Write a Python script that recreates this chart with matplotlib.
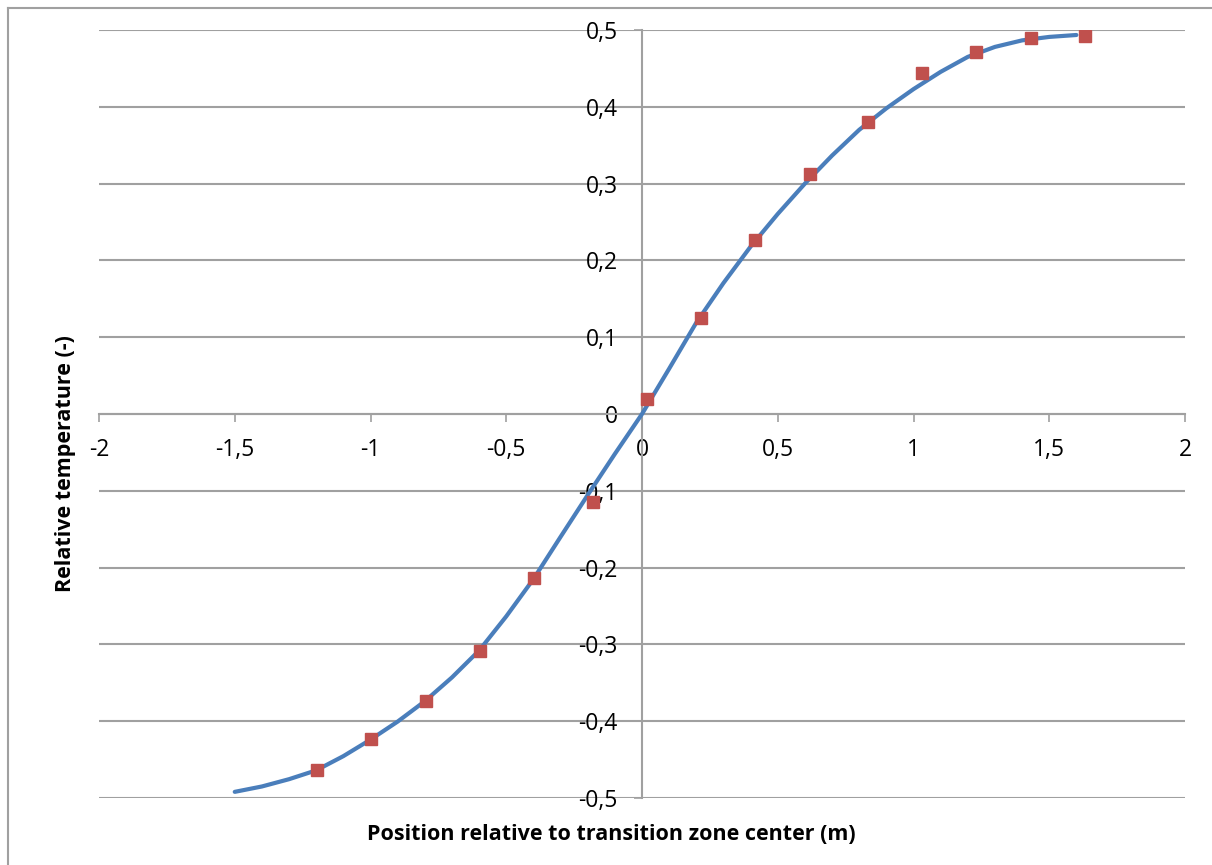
import matplotlib
matplotlib.use("Agg")
import matplotlib.pyplot as plt
from matplotlib.ticker import FuncFormatter, MultipleLocator
from matplotlib.lines import Line2D

# smooth curve (blue line)
curve_x = [-1.5, -1.4, -1.3, -1.2, -1.1, -1.0, -0.9, -0.8, -0.7, -0.6, -0.5,
           -0.4, -0.3, -0.2, -0.1, 0.0, 0.1, 0.2, 0.3, 0.4, 0.5, 0.6, 0.7,
           0.8, 0.9, 1.0, 1.1, 1.2, 1.3, 1.4, 1.5, 1.6]
curve_y = [-0.492, -0.485, -0.4755, -0.464, -0.4455, -0.424, -0.4005, -0.374,
           -0.343, -0.308, -0.2635, -0.215, -0.160, -0.1055, -0.052, 0.0,
           0.059, 0.119, 0.1705, 0.218, 0.2605, 0.300, 0.3365, 0.370, 0.398,
           0.423, 0.4455, 0.465, 0.478, 0.4865, 0.491, 0.4935]

# measured points (red squares)
meas_x = [-1.197, -0.998, -0.797, -0.597, -0.398, -0.18, 0.018, 0.217,
          0.418, 0.618, 0.832, 1.033, 1.232, 1.433, 1.632]
meas_y = [-0.463, -0.423, -0.374, -0.308, -0.214, -0.114, 0.019, 0.125,
          0.227, 0.313, 0.380, 0.444, 0.471, 0.489, 0.492]

plt.rcParams['font.family'] = ['Open Sans', 'DejaVu Sans']

W, H = 1212, 865
fig = plt.figure(figsize=(W / 100, H / 100), dpi=100)
ax = fig.add_axes([99 / W, 1 - 798 / H, (1185 - 99) / W, (798 - 30) / H])

grey = '#a0a0a0'

# outer chart frame (only left/top visible)
fx, fy = 7.5 / W, 1 - 7.5 / H
fig.add_artist(Line2D([fx, 1.0], [fy, fy], transform=fig.transFigure, color=grey, lw=1.5))
fig.add_artist(Line2D([fx, fx], [0.0, fy], transform=fig.transFigure, color=grey, lw=1.5))

ax.set_xlim(-2, 2)
ax.set_ylim(-0.5, 0.5)
ax.xaxis.set_major_locator(MultipleLocator(0.5))
ax.yaxis.set_major_locator(MultipleLocator(0.1))

comma = FuncFormatter(lambda v, p: ('%g' % round(v, 2)).replace('.', ','))
ax.xaxis.set_major_formatter(comma)
ax.yaxis.set_major_formatter(comma)

ax.grid(axis='y', color=grey, lw=1.5)
ax.set_axisbelow(True)

for s in ['top', 'right']:
    ax.spines[s].set_visible(False)
ax.spines['left'].set_position(('data', 0))
ax.spines['bottom'].set_position(('data', 0))
for s in ['left', 'bottom']:
    ax.spines[s].set_color(grey)
    ax.spines[s].set_linewidth(1.5)

ax.tick_params(axis='both', length=5.5, width=1.2, color=grey, labelsize=16.5, pad=12)

ax.plot(curve_x, curve_y, color='#4a7ebb', lw=3, solid_capstyle='round', zorder=3)
ax.plot(meas_x, meas_y, 's', color='#c0504d', markersize=8.5, zorder=4, ls='none')

fig.text(611 / W, 1 - 835 / H, 'Position relative to transition zone center (m)',
         ha='center', va='center', fontsize=15.5, fontweight='bold')
fig.text(65 / W, 1 - 464 / H, 'Relative temperature (-)', rotation=90,
         ha='center', va='center', fontsize=15.5, fontweight='bold')

fig.savefig('out.png', dpi=100)
